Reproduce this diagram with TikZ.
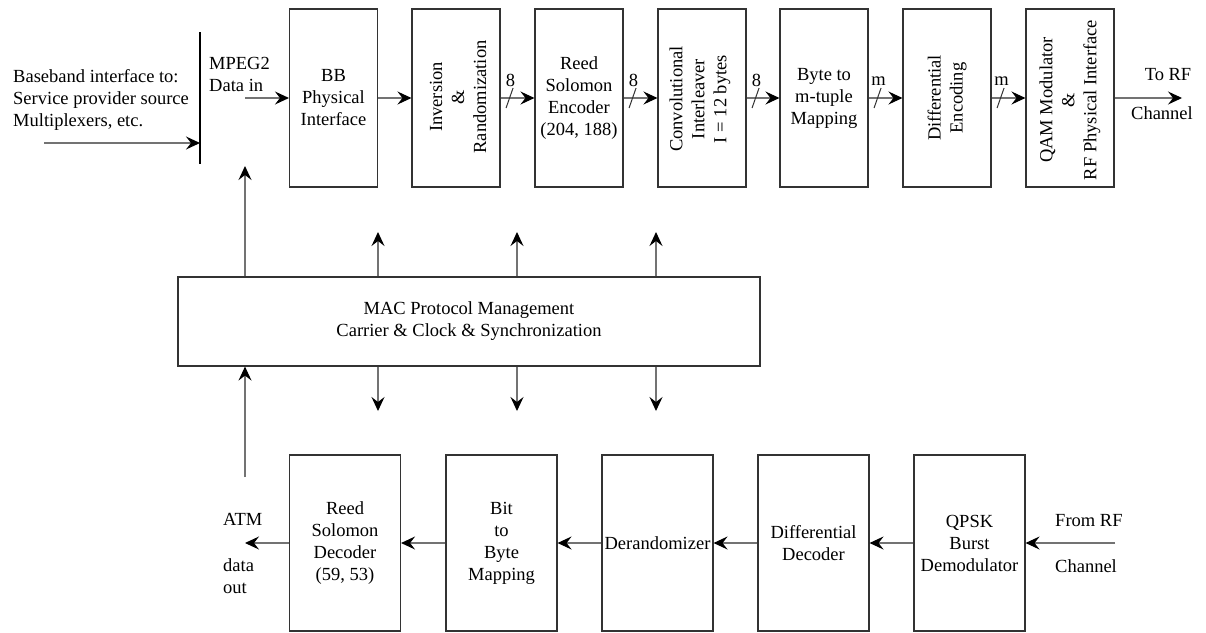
\documentclass[tikz,border=0pt]{standalone}
\usepackage{fontspec}
\setmainfont{Liberation Serif}
\usetikzlibrary{arrows.meta}
\begin{document}
\begin{tikzpicture}[x=1pt,y=-1pt,
  every node/.style={font=\fontsize{18.5}{22}\selectfont, inner sep=0pt},
  blk/.style={draw=black!80, line width=1.1pt, minimum width=88pt, minimum height=178pt, align=center},
  bblk/.style={draw=black!80, line width=1.1pt, minimum width=111pt, minimum height=176pt, align=center},
  vtxt/.style={rotate=90, align=center},
  conn/.style={draw=black!55, line width=1.2pt, -{Stealth[length=14pt,width=13pt,inset=5pt,color=black]}},
  busmark/.style={draw=black!80, line width=1pt},
  lbl/.style={align=left}]
\useasboundingbox (0,0) rectangle (1206,632);
\fill[white] (0,0) rectangle (1206,632);

% ---- top chain
\node[blk] (b1) at (333.5,98) {BB\\Physical\\Interface};
\node[blk] (b2) at (456,98) {};
\node[vtxt] (t2) at (458,97) {Inversion\\\&\\Randomization};
\node[blk] (b3) at (579,98) {Reed\\Solomon\\Encoder\\(204, 188)};
\node[blk] (b4) at (702,98) {};
\node[vtxt] (t4) at (700,99) {Convolutional\\Interleaver\\I = 12 bytes};
\node[blk] (b5) at (824,98) {Byte to\\m-tuple\\Mapping};
\node[blk] (b6) at (947,98) {};
\node[vtxt] (t6) at (947,98) {Differential\\Encoding};
\node[blk] (b7) at (1070,98) {};
\node[vtxt] (t7) at (1070,100) {QAM Modulator\\\&\\RF Physical Interface};

% ---- input side
\coordinate (bartop) at (200,32);
\coordinate (barbot) at (200,164);
\coordinate (barin) at (200,143);
\coordinate (srcin) at (44,143);
\coordinate (mpegin) at (245,98);
\draw[black, line width=2.4pt] (bartop) -- (barbot);
\draw[conn] (srcin) -- (barin);
\node[lbl, anchor=west] (srctxt) at (13,100) {Baseband interface to:\\Service provider source\\Multiplexers, etc.};
\node[lbl, anchor=west] (mpegtxt) at (209,74) {MPEG2\\Data in};
\draw[conn] (mpegin) -- (b1.west);

% ---- top connectors
\draw[conn] (b1.east) -- (b2.west);
\draw[conn] (b2.east) -- (b3.west);
\draw[conn] (b3.east) -- (b4.west);
\draw[conn] (b4.east) -- (b5.west);
\draw[conn] (b5.east) -- (b6.west);
\draw[conn] (b6.east) -- (b7.west);
\coordinate (torf) at (1182,98);
\draw[conn] (b7.east) -- (torf);
\node (torftxt) at (1168,75) {To RF};
\node (chtxt1) at (1162,113) {Channel};

% bus width marks
\draw[busmark] ([xshift=5.5pt,yshift=-10pt]b2.east) -- ([xshift=12.5pt,yshift=10pt]b2.east);
\node (w23) at ([xshift=10pt,yshift=18pt]b2.east) {8};
\draw[busmark] ([xshift=5.5pt,yshift=-10pt]b3.east) -- ([xshift=12.5pt,yshift=10pt]b3.east);
\node (w34) at ([xshift=10pt,yshift=18pt]b3.east) {8};
\draw[busmark] ([xshift=5.5pt,yshift=-10pt]b4.east) -- ([xshift=12.5pt,yshift=10pt]b4.east);
\node (w45) at ([xshift=10pt,yshift=18pt]b4.east) {8};
\draw[busmark] ([xshift=5.5pt,yshift=-10pt]b5.east) -- ([xshift=12.5pt,yshift=10pt]b5.east);
\node (w56) at ([xshift=10pt,yshift=17pt]b5.east) {m};
\draw[busmark] ([xshift=5.5pt,yshift=-10pt]b6.east) -- ([xshift=12.5pt,yshift=10pt]b6.east);
\node (w67) at ([xshift=10pt,yshift=17pt]b6.east) {m};

% ---- MAC block
\node[draw=black!80, line width=1.1pt, minimum width=582pt, minimum height=89pt, align=center] (mac) at (469,321.5) {MAC Protocol Management\\Carrier \& Clock \& Synchronization};
\coordinate (macup) at (245,166);
\draw[conn] (mac.north -| macup) -- (macup);
\coordinate (u1) at (378,232);
\coordinate (u2) at (517,232);
\coordinate (u3) at (656,232);
\draw[conn] (mac.north -| u1) -- (u1);
\draw[conn] (mac.north -| u2) -- (u2);
\draw[conn] (mac.north -| u3) -- (u3);
\coordinate (d1) at (378,411);
\coordinate (d2) at (517,411);
\coordinate (d3) at (656,411);
\draw[conn] (mac.south -| d1) -- (d1);
\draw[conn] (mac.south -| d2) -- (d2);
\draw[conn] (mac.south -| d3) -- (d3);
\coordinate (atmup) at (245,477);
\draw[conn] (atmup) -- (mac.south -| atmup);

% ---- bottom chain
\node[bblk] (r1) at (345,543) {Reed\\Solomon\\Decoder\\(59, 53)};
\node[bblk] (r2) at (501.5,543) {Bit\\to\\Byte\\Mapping};
\node[bblk] (r3) at (657.5,543) {Derandomizer};
\node[bblk] (r4) at (813.5,543) {Differential\\Decoder};
\node[bblk] (r5) at (969.5,543) {QPSK\\Burst\\Demodulator};
\coordinate (fromrf) at (1115,543);
\coordinate (atmout) at (245,543);
\draw[conn] (fromrf) -- (r5.east);
\draw[conn] (r5.west) -- (r4.east);
\draw[conn] (r4.west) -- (r3.east);
\draw[conn] (r3.west) -- (r2.east);
\draw[conn] (r2.west) -- (r1.east);
\draw[conn] (r1.west) -- (atmout);
\node[anchor=west] (fromrftxt) at (1055,521) {From RF};
\node[anchor=west] (chtxt2) at (1055,566) {Channel};
\node[anchor=west] (atmtxt) at (223,519) {ATM};
\node[lbl, anchor=west] (datatxt) at (223,576) {data\\out};
\end{tikzpicture}
\end{document}
